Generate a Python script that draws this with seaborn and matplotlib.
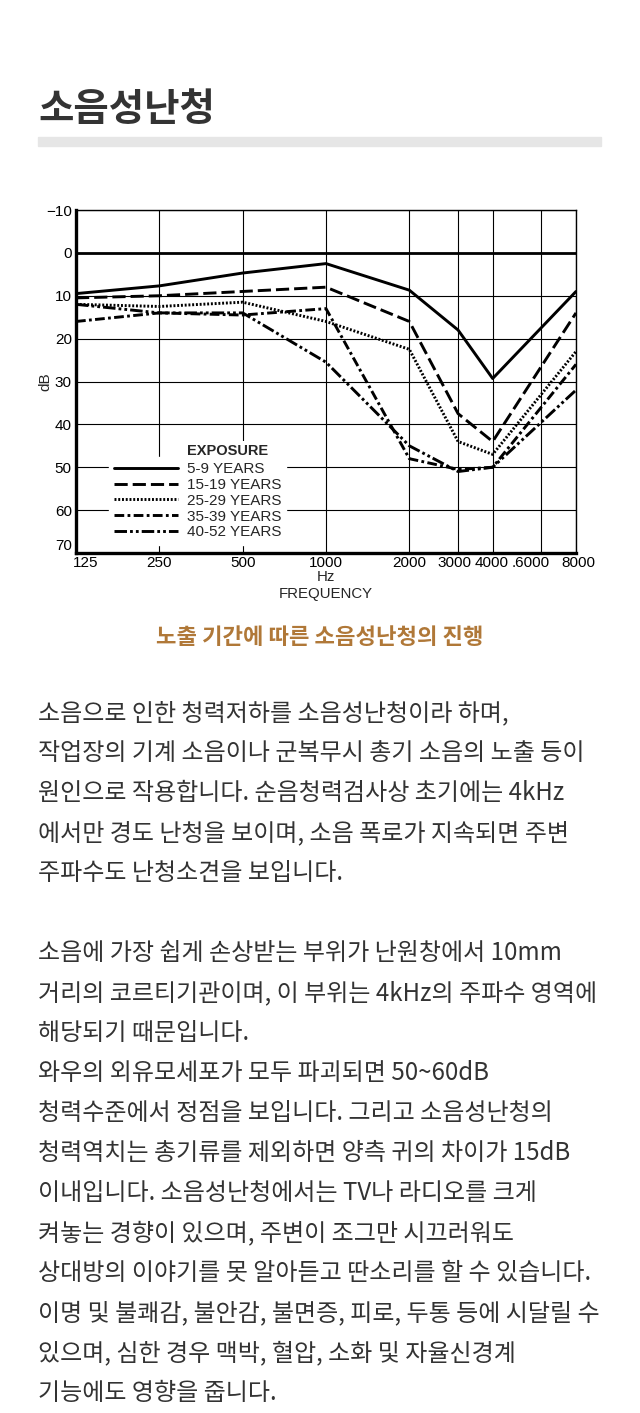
#!/usr/bin/env python3
"""Noise-induced hearing loss page: audiogram by exposure years + Korean text."""

import matplotlib

matplotlib.use("Agg")
import matplotlib.pyplot as plt
import seaborn as sns
from matplotlib.ticker import NullLocator
from matplotlib.transforms import ScaledTranslation

# audiogram values (dB HL)
freq_hz = [125, 250, 500, 1000, 2000, 3000, 4000, 8000]
freq_ticks = [125, 250, 500, 1000, 2000, 3000, 4000, 6000, 8000]
freq_tick_labels = ["125", "250", "500", "1000", "2000", "3000", "4000", ".6000", "8000"]
db_ticks = [-10, 0, 10, 20, 30, 40, 50, 60, 70]

exposure_labels = ["5-9 YEARS", "15-19 YEARS", "25-29 YEARS", "35-39 YEARS", "40-52 YEARS"]
loss_5_9 = [9.5, 7.7, 4.7, 2.5, 8.7, 18, 29.3, 9]
loss_15_19 = [10.5, 10, 9, 8, 16, 37.5, 44, 14]
loss_25_29 = [12, 12.5, 11.5, 16, 22.5, 44, 47, 23]
loss_35_39 = [16, 14, 14.5, 13, 48, 50.5, 50, 26]
loss_40_52 = [12, 14, 14, 25.5, 45, 51, 50, 32]

title = "소음성난청"
caption = "노출 기간에 따른 소음성난청의 진행"
body_lines = [
    "소음으로 인한 청력저하를 소음성난청이라 하며,",
    "작업장의 기계 소음이나 군복무시 총기 소음의 노출 등이",
    "원인으로 작용합니다. 순음청력검사상 초기에는 4kHz",
    "에서만 경도 난청을 보이며, 소음 폭로가 지속되면 주변",
    "주파수도 난청소견을 보입니다.",
    "",
    "소음에 가장 쉽게 손상받는 부위가 난원창에서 10mm",
    "거리의 코르티기관이며, 이 부위는 4kHz의 주파수 영역에",
    "해당되기 때문입니다.",
    "와우의 외유모세포가 모두 파괴되면 50~60dB",
    "청력수준에서 정점을 보입니다. 그리고 소음성난청의",
    "청력역치는 총기류를 제외하면 양측 귀의 차이가 15dB",
    "이내입니다. 소음성난청에서는 TV나 라디오를 크게",
    "켜놓는 경향이 있으며, 주변이 조그만 시끄러워도",
    "상대방의 이야기를 못 알아듣고 딴소리를 할 수 있습니다.",
    "이명 및 불쾌감, 불안감, 불면증, 피로, 두통 등에 시달릴 수",
    "있으며, 심한 경우 맥박, 혈압, 소화 및 자율신경계",
    "기능에도 영향을 줍니다.",
]

W, H = 640, 1413
KR = ["Noto Sans CJK KR", "DejaVu Sans"]
CHART = ["Liberation Sans", "DejaVu Sans"]


def fy(px):
    return 1 - px / H


sns.set_style("white")
plt.rcParams["font.family"] = CHART
plt.rcParams["lines.scale_dashes"] = False

fig = plt.figure(figsize=(W / 100, H / 100), dpi=100)
ax = fig.add_axes([76 / W, fy(553), 500 / W, 343 / H])

series = [loss_5_9, loss_15_19, loss_25_29, loss_35_39, loss_40_52]
styles = [
    "-",
    (0, (9.5, 3.6)),
    (0, (1.4, 1.3)),
    (0, (7, 2.4, 2, 2.4)),
    (0, (9, 2.2, 2, 2.2, 2, 2.2)),
]
for vals, lab, ls in zip(series, exposure_labels, styles):
    sns.lineplot(x=freq_hz, y=vals, ax=ax, color="black", linewidth=2.1,
                 linestyle=ls, label=lab, estimator=None)

ax.set_xscale("log", base=2)
ax.set_xlim(125, 8000)
ax.set_ylim(70, -10)
ax.set_xticks(freq_ticks)
ax.set_xticklabels(freq_tick_labels)
ax.xaxis.set_minor_locator(NullLocator())
ax.set_yticks(db_ticks)
ax.set_yticklabels([f"{v}".replace("-", "\u2212") for v in db_ticks])
ax.tick_params(length=0, labelsize=11, colors="black")
ax.tick_params(axis="y", pad=3)
ax.tick_params(axis="x", pad=2)
ax.grid(True, color="black", linewidth=0.8)
ax.axhline(0, color="black", linewidth=2.0, zorder=1)

# the scanned labels sit a little off their ticks
x_shift_px = [10, 0, 0, 0, 0, -4, -1, -11, 2]
for lbl, dx in zip(ax.get_xticklabels(), x_shift_px):
    lbl.set_transform(lbl.get_transform() + ScaledTranslation(dx / 100, 0, fig.dpi_scale_trans))
ax.get_yticklabels()[-1].set_va("bottom")

for side in ["left", "bottom"]:
    ax.spines[side].set_linewidth(2.4)
for side in ["top", "right"]:
    ax.spines[side].set_linewidth(1.0)
for sp in ax.spines.values():
    sp.set_color("black")
    sp.set_visible(True)

ax.set_ylabel("dB", fontsize=11)
ax.yaxis.set_label_coords(-0.047, 0.5)
ax.set_xlabel("Hz\nFREQUENCY", fontsize=10.8, linespacing=1.3)
ax.xaxis.set_label_coords(0.5, -0.05)

handles, labels = ax.get_legend_handles_labels()
leg = ax.legend(handles, labels, loc="upper left", bbox_to_anchor=(0.05, 0.303),
                fontsize=11, handlelength=4.2, handletextpad=0.55, labelspacing=0.12,
                borderpad=0.35, frameon=True, fancybox=False, framealpha=1,
                edgecolor="white", facecolor="white")
leg.set_zorder(5)
ax.text(0.222, 0.278, "EXPOSURE", transform=ax.transAxes, fontsize=10.5,
        fontweight="bold", va="bottom", ha="left", zorder=6,
        bbox=dict(facecolor="white", edgecolor="none", pad=2))

# page texts
fig.text(38 / W, fy(121), title, family=KR, fontsize=27.7, fontweight="bold",
         color="#333333", va="baseline", ha="left")
fig.patches.append(plt.Rectangle((38 / W, fy(146)), 563 / W, 9 / H,
                                 transform=fig.transFigure, color="#e6e6e6"))
fig.text(320 / W, fy(644), caption, family=KR, fontsize=16, fontweight="bold",
         color="#b07838", va="baseline", ha="center")
for i, line in enumerate(body_lines):
    if line:
        fig.text(38 / W, fy(720 + 40 * i), line, family=KR, fontsize=17.3,
                 color="#333333", va="baseline", ha="left")

fig.savefig("out.png", dpi=100, facecolor="white")
